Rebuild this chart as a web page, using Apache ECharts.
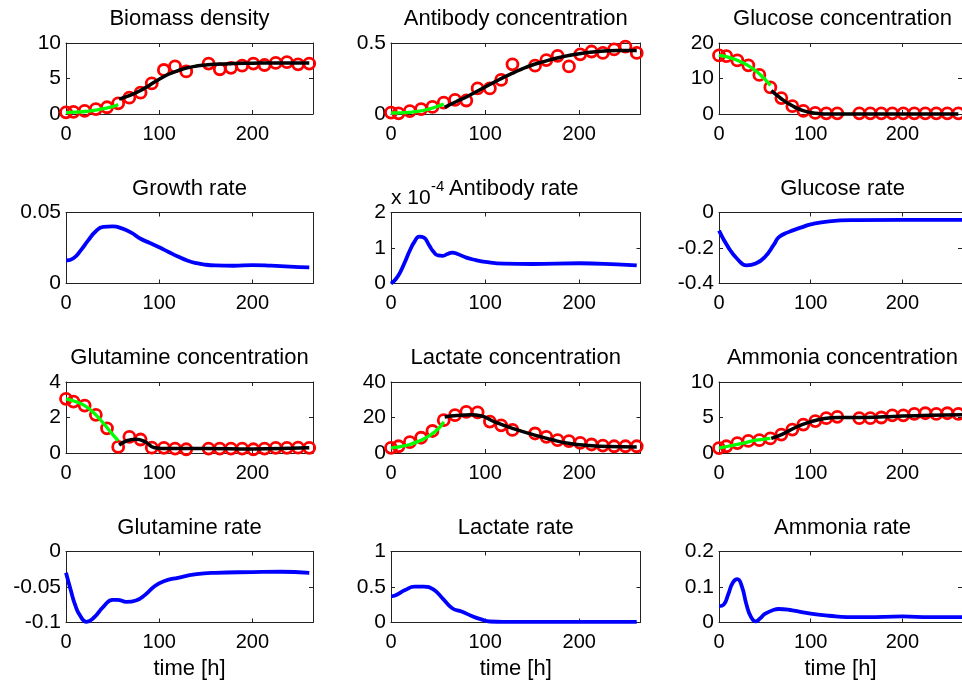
<!DOCTYPE html>
<html><head><meta charset="utf-8">
<script src="https://cdn.jsdelivr.net/npm/echarts@6/dist/echarts.min.js"></script>
<style>html,body{margin:0;padding:0;background:#fff;overflow:hidden}#c{width:962px;height:686px}</style>
</head><body><div id="c"></div>
<script>
// ---------- DATA ----------
const sampleTimes = [0, 8, 20, 32, 44, 56, 68, 80, 92, 105, 117, 129, 153, 165, 177, 189, 201, 213, 225, 237, 249, 261];
const xTicks = [0, 100, 200];

// Biomass density
const biomassObs = [0.23, 0.3, 0.45, 0.7, 0.95, 1.5, 2.3, 3.0, 4.3, 6.2, 6.7, 6.0, 7.1, 6.3, 6.5, 6.8, 7.1, 6.9, 7.2, 7.3, 7.0, 7.1];
const biomassGreenT = [0, 10, 20, 30, 40, 50, 56];
const biomassGreenV = [0.2, 0.25, 0.35, 0.5, 0.75, 1.05, 1.35];
const biomassBlackT = [57, 70, 80, 90, 100, 110, 120, 130, 140, 150, 160, 180, 200, 220, 240, 261];
const biomassBlackV = [2.1, 2.7, 3.3, 4.1, 4.9, 5.6, 6.1, 6.5, 6.75, 6.9, 7.0, 7.1, 7.15, 7.2, 7.2, 7.2];

// Antibody concentration
const antibodyObs = [0.01, 0.005, 0.02, 0.035, 0.05, 0.08, 0.1, 0.095, 0.18, 0.18, 0.24, 0.35, 0.34, 0.38, 0.41, 0.335, 0.42, 0.44, 0.43, 0.455, 0.475, 0.43];
const antibodyGreenT = [0, 10, 20, 30, 40, 50, 56];
const antibodyGreenV = [0.007, 0.008, 0.012, 0.02, 0.035, 0.055, 0.07];
const antibodyBlackT = [57, 70, 80, 90, 100, 110, 120, 130, 140, 150, 160, 180, 200, 220, 240, 261];
const antibodyBlackV = [0.047, 0.09, 0.12, 0.155, 0.19, 0.225, 0.26, 0.29, 0.32, 0.345, 0.365, 0.40, 0.425, 0.44, 0.447, 0.448];

// Glucose concentration
const glucoseObs = [16.5, 16.3, 15.1, 13.7, 11.0, 7.5, 4.5, 2.2, 0.9, 0.3, 0.2, 0.2, 0.2, 0.2, 0.2, 0.2, 0.2, 0.2, 0.2, 0.2, 0.2, 0.2];
const glucoseGreenT = [0, 10, 20, 30, 40, 50, 56];
const glucoseGreenV = [16.5, 16.0, 15.1, 13.9, 12.2, 9.8, 8.0];
const glucoseBlackT = [57, 65, 70, 80, 90, 100, 110, 120, 140, 180, 220, 261];
const glucoseBlackV = [6.6, 4.9, 3.9, 2.3, 1.1, 0.4, 0.1, 0.03, 0.02, 0.02, 0.02, 0.02];

// Growth rate
const growthT = [0, 8, 16, 24, 32, 40, 50, 60, 70, 80, 90, 100, 110, 120, 130, 140, 150, 160, 180, 200, 220, 240, 261];
const growthV = [0.0162, 0.0178, 0.0235, 0.0305, 0.0368, 0.0398, 0.0402, 0.0388, 0.0358, 0.0315, 0.0285, 0.0255, 0.0222, 0.019, 0.0162, 0.0143, 0.0132, 0.0127, 0.0125, 0.013, 0.0126, 0.0119, 0.0114];

// Antibody rate (in units of 1e-4)
const abRateT = [0, 5, 10, 15, 20, 25, 30, 35, 40, 45, 50, 55, 60, 65, 70, 80, 90, 100, 120, 150, 200, 240, 261];
const abRateV = [0.0, 0.12, 0.33, 0.62, 0.93, 1.18, 1.32, 1.29, 1.1, 0.9, 0.79, 0.78, 0.83, 0.87, 0.84, 0.73, 0.66, 0.61, 0.56, 0.55, 0.57, 0.54, 0.51];

// Glucose rate
const glcRateT = [0, 10, 20, 30, 40, 50, 60, 65, 75, 90, 100, 120, 150, 200, 265];
const glcRateV = [-0.102, -0.195, -0.262, -0.298, -0.288, -0.251, -0.18, -0.14, -0.112, -0.084, -0.067, -0.05, -0.043, -0.041, -0.041];

// Glutamine concentration
const glutamineObs = [3.05, 2.9, 2.67, 2.15, 1.39, 0.34, 0.91, 0.76, 0.3, 0.29, 0.25, 0.21, 0.25, 0.25, 0.25, 0.25, 0.21, 0.25, 0.29, 0.29, 0.3, 0.29];
const glutamineGreenT = [0, 10, 20, 30, 40, 50, 56];
const glutamineGreenV = [3.05, 2.9, 2.67, 2.25, 1.68, 1.05, 0.7];
const glutamineBlackT = [57, 65, 75, 85, 95, 110, 150, 200, 261];
const glutamineBlackV = [0.44, 0.69, 0.78, 0.63, 0.3, 0.25, 0.25, 0.23, 0.29];

// Lactate concentration
const lactateObs = [2.9, 3.8, 6.1, 8.6, 12.4, 18.5, 21.3, 23.2, 22.9, 17.7, 15.6, 13, 11, 9.1, 7.2, 6.7, 5.7, 4.8, 4.2, 3.8, 3.8, 3.8];
const lactateGreenT = [0, 10, 20, 30, 40, 50, 56];
const lactateGreenV = [2.9, 3.6, 4.8, 6.8, 9.5, 13.5, 17.5];
const lactateBlackT = [57, 70, 85, 95, 110, 130, 150, 170, 190, 210, 230, 261];
const lactateBlackV = [20.3, 21.1, 21.5, 21.0, 17.5, 13.7, 10.5, 7.6, 5.3, 4.2, 3.6, 3.4];

// Ammonia concentration
const ammoniaObs = [0.7, 0.95, 1.4, 1.7, 1.8, 2.05, 2.6, 3.3, 4.0, 4.5, 4.9, 5.1, 4.9, 4.9, 5.0, 5.3, 5.3, 5.5, 5.6, 5.5, 5.6, 5.5];
const ammoniaGreenT = [0, 10, 20, 30, 40, 50, 56];
const ammoniaGreenV = [0.7, 0.95, 1.2, 1.5, 1.8, 1.95, 2.05];
const ammoniaBlackT = [57, 70, 85, 100, 115, 130, 150, 180, 200, 230, 265];
const ammoniaBlackV = [2.05, 2.7, 3.7, 4.4, 4.85, 5.0, 5.0, 5.1, 5.2, 5.3, 5.4];

// Glutamine rate
const glnRateT = [0, 5, 10, 15, 22, 30, 40, 50, 55, 65, 75, 85, 95, 105, 120, 140, 160, 200, 230, 261];
const glnRateV = [-0.030, -0.054, -0.076, -0.090, -0.099, -0.093, -0.078, -0.068, -0.068, -0.071, -0.069, -0.061, -0.049, -0.042, -0.037, -0.032, -0.030, -0.029, -0.0285, -0.030];

// Lactate rate
const lacRateT = [0, 5, 15, 25, 35, 45, 55, 65, 75, 85, 95, 105, 120, 200, 261];
const lacRateV = [0.37, 0.385, 0.457, 0.505, 0.505, 0.466, 0.337, 0.2, 0.154, 0.096, 0.048, 0.014, 0.01, 0.01, 0.01];

// Ammonia rate
const nh4RateT = [0, 5, 10, 15, 20, 25, 30, 35, 40, 45, 50, 60, 65, 80, 100, 120, 140, 160, 200, 230, 265];
const nh4RateV = [0.046, 0.05, 0.079, 0.112, 0.122, 0.101, 0.05, 0.015, 0.003, 0.012, 0.024, 0.036, 0.038, 0.034, 0.025, 0.019, 0.015, 0.015, 0.017, 0.015, 0.015];

// Panel titles and y ranges
const titles = ['Biomass density', 'Antibody concentration', 'Glucose concentration',
  'Growth rate', 'Antibody rate', 'Glucose rate',
  'Glutamine concentration', 'Lactate concentration', 'Ammonia concentration',
  'Glutamine rate', 'Lactate rate', 'Ammonia rate'];
const yRanges = [[0, 10, 5], [0, 0.5, 0.5], [0, 20, 10],
  [0, 0.05, 0.05], [0, 2, 1], [-0.4, 0, 0.2],
  [0, 4, 2], [0, 40, 20], [0, 10, 5],
  [-0.1, 0, 0.05], [0, 1, 0.5], [0, 0.2, 0.1]];
const xMax = 265;

// ---------- LAYOUT ----------
const colLeft = [66, 391, 719];
const colWidth = [247, 249.5, 247];
const rowTop = [43, 212.5, 382, 551.5];
const rowHeight = 71;
const FONT = '"Liberation Sans", Arial, Helvetica, sans-serif';
const AX = '#222';

const pair = (t, v) => t.map((x, i) => [x, v[i]]);

const panelSeries = [
  {obs: biomassObs, green: pair(biomassGreenT, biomassGreenV), black: pair(biomassBlackT, biomassBlackV)},
  {obs: antibodyObs, green: pair(antibodyGreenT, antibodyGreenV), black: pair(antibodyBlackT, antibodyBlackV)},
  {obs: glucoseObs, green: pair(glucoseGreenT, glucoseGreenV), black: pair(glucoseBlackT, glucoseBlackV)},
  {blue: pair(growthT, growthV)},
  {blue: pair(abRateT, abRateV)},
  {blue: pair(glcRateT, glcRateV)},
  {obs: glutamineObs, green: pair(glutamineGreenT, glutamineGreenV), black: pair(glutamineBlackT, glutamineBlackV)},
  {obs: lactateObs, green: pair(lactateGreenT, lactateGreenV), black: pair(lactateBlackT, lactateBlackV)},
  {obs: ammoniaObs, green: pair(ammoniaGreenT, ammoniaGreenV), black: pair(ammoniaBlackT, ammoniaBlackV)},
  {blue: pair(glnRateT, glnRateV)},
  {blue: pair(lacRateT, lacRateV)},
  {blue: pair(nh4RateT, nh4RateV)}
];

const grid = [], xAxis = [], yAxis = [], series = [], title = [];
const lineBase = {type: 'line', clip: false, silent: true, showSymbol: false, symbol: 'none',
  smooth: 0.5, z: 3};
for (let i = 0; i < 12; i++) {
  const r = Math.floor(i / 3), c = i % 3;
  const L = colLeft[c], W = colWidth[c], T = rowTop[r];
  grid.push({left: L, top: T, width: W, height: rowHeight, show: false, containLabel: false});
  title.push({text: titles[i], left: L + W / 2 - (i === 4 ? 2 : 0), top: T - 35, textAlign: 'center', padding: 0,
    textStyle: {fontFamily: FONT, fontSize: 22, fontWeight: 'normal', color: '#000'}});
  const [ymin, ymax, yint] = yRanges[i];
  const common = {axisLine: {show: true, onZero: false, lineStyle: {color: AX, width: 1}},
    axisTick: {show: true, inside: true, length: 4, lineStyle: {color: AX, width: 1}},
    splitLine: {show: false}};
  xAxis.push(Object.assign({type: 'value', gridIndex: i, position: 'bottom', min: 0, max: xMax, interval: 100,
    axisLabel: {show: true, margin: 10, fontFamily: FONT, fontSize: 20, color: '#000', showMaxLabel: false,
      formatter: v => xTicks.includes(v) ? String(v) : ''},
    name: r === 3 ? 'time [h]' : '', nameLocation: 'middle', nameGap: 35,
    nameTextStyle: {fontFamily: FONT, fontSize: 22, color: '#000'}}, common));
  xAxis.push(Object.assign({type: 'value', gridIndex: i, position: 'top', min: 0, max: xMax, interval: 100,
    axisLabel: {show: false}}, common));
  yAxis.push(Object.assign({type: 'value', gridIndex: i, position: 'left', min: ymin, max: ymax, interval: yint,
    axisLabel: {show: true, margin: 5, fontFamily: FONT, fontSize: 21, color: '#000',
      formatter: v => String(Math.round(v * 1e6) / 1e6)}}, common));
  yAxis.push(Object.assign({type: 'value', gridIndex: i, position: 'right', min: ymin, max: ymax, interval: yint,
    axisLabel: {show: false}}, common));

  const ps = panelSeries[i];
  const xi = 2 * i, yi = 2 * i;
  if (ps.obs) {
    series.push({type: 'scatter', xAxisIndex: xi, yAxisIndex: yi, clip: false, silent: true,
      data: pair(sampleTimes, ps.obs), symbol: 'circle', symbolSize: 11,
      itemStyle: {color: 'rgba(0,0,0,0)', borderColor: '#ff0000', borderWidth: 2.8, opacity: 1}, z: 2});
    series.push(Object.assign({}, lineBase, {xAxisIndex: xi, yAxisIndex: yi, data: ps.green,
      lineStyle: {color: '#00ff00', width: 3.3}}));
    series.push(Object.assign({}, lineBase, {xAxisIndex: xi, yAxisIndex: yi, data: ps.black,
      lineStyle: {color: '#000000', width: 3.5}}));
  }
  if (ps.blue) {
    series.push(Object.assign({}, lineBase, {xAxisIndex: xi, yAxisIndex: yi, data: ps.blue,
      lineStyle: {color: '#0000ff', width: 3.8}}));
  }
}

const chart = echarts.init(document.getElementById('c'), null, {renderer: 'canvas'});
chart.setOption({
  animation: false,
  backgroundColor: '#ffffff',
  title, grid, xAxis, yAxis, series,
  graphic: [
    {type: 'text', left: 391, top: 188, style: {text: 'x 10', font: '21px ' + FONT, fill: '#000'}},
    {type: 'text', left: 431, top: 179, style: {text: '-4', font: '15px ' + FONT, fill: '#000'}}
  ]
});
</script>
</body></html>
